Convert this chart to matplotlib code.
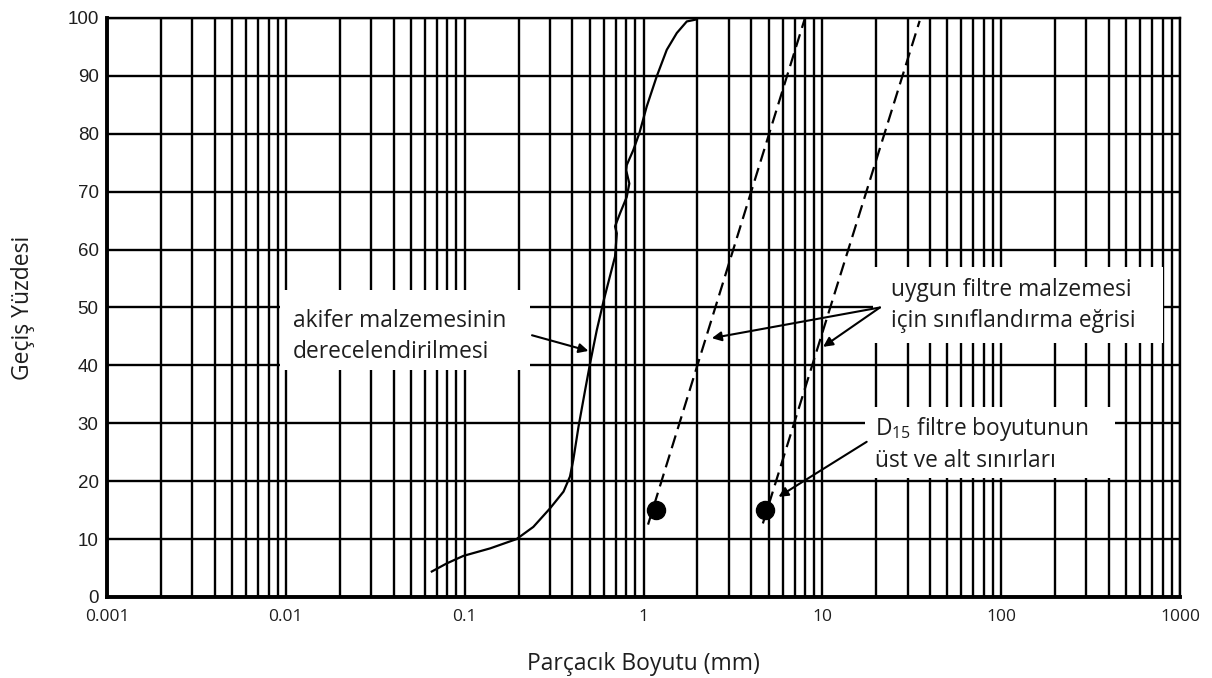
import matplotlib
matplotlib.use("Agg")
import matplotlib.pyplot as plt
from matplotlib.patches import Rectangle
from matplotlib.ticker import LogLocator, FixedLocator, NullFormatter

plt.rcParams['font.family'] = ['Open Sans', 'DejaVu Sans']
plt.rcParams['mathtext.fontset'] = 'custom'
plt.rcParams['mathtext.rm'] = 'Open Sans'

# aquifer gradation curve (grain size mm, percent passing)
aquifer_size = [0.0655, 0.0794, 0.0984, 0.139, 0.195, 0.242, 0.300, 0.357, 0.388,
                0.405, 0.433, 0.472, 0.503, 0.548, 0.60, 0.693, 0.709, 0.693,
                0.740, 0.806, 0.833, 0.800, 0.806, 0.877, 0.948, 1.042, 1.185,
                1.349, 1.535, 1.746, 1.945]
aquifer_pass = [4.4, 5.8, 7.1, 8.4, 10.0, 12.1, 15.3, 18.2, 20.8,
                23.7, 29.4, 35.8, 40.4, 46.1, 51.3, 58.8, 62.8, 64.0,
                66.3, 69.1, 71.4, 73.7, 74.6, 77.2, 80.1, 84.7, 89.9,
                94.5, 97.4, 99.4, 99.7]

# filter gradation envelope (dashed lines)
fine_limit_size = [1.06, 8.0]
fine_limit_pass = [12.5, 100]
coarse_limit_size = [4.65, 35.0]
coarse_limit_pass = [12.7, 99.5]

# D15 filter size limits
d15_size = [1.175, 4.79]
d15_pass = [15, 15]

x_ticks = [0.001, 0.01, 0.1, 1, 10, 100, 1000]
x_tick_labels = ["0.001", "0.01", "0.1", "1", "10", "100", "1000"]
y_ticks = list(range(0, 101, 10))

# annotation arrows: (tail, head) in data coords
arrow_aquifer = [((0.238, 45.2), (0.492, 42.5))]
arrow_filter = [((21.0, 50.0), (2.41, 44.7)), ((21.0, 50.0), (10.1, 43.2))]
arrow_d15 = [((17.7, 26.8), (5.69, 17.3))]

fig = plt.figure(figsize=(12.12, 6.78), dpi=100)
ax = fig.add_axes([0.0883, 0.1195, 0.8853, 0.854])

ax.set_xscale('log')
ax.set_xlim(0.001, 1000)
ax.set_ylim(0, 100)

# grid
ax.xaxis.set_major_locator(FixedLocator(x_ticks))
ax.xaxis.set_minor_locator(LogLocator(base=10, subs=range(2, 10), numticks=20))
ax.xaxis.set_minor_formatter(NullFormatter())
ax.set_yticks(y_ticks)
ax.grid(which='both', axis='x', color='black', lw=1.7)
ax.grid(which='major', axis='y', color='black', lw=1.7)
ax.set_axisbelow(True)
ax.tick_params(which='both', length=0)
ax.tick_params(axis='x', pad=9)
ax.tick_params(axis='y', pad=6)

ax.set_xticklabels(x_tick_labels, fontsize=12.5, color='#1e1e1e')
for lab in ax.get_yticklabels():
    lab.set_fontfamily('Liberation Sans')
    lab.set_fontsize(13.5)
    lab.set_color('#1e1e1e')

for side in ['top', 'right']:
    ax.spines[side].set_linewidth(1.7)
for side in ['left', 'bottom']:
    ax.spines[side].set_linewidth(2.8)

ax.plot(aquifer_size, aquifer_pass, color='black', lw=1.6, zorder=3)
ax.plot(fine_limit_size, fine_limit_pass, color='black', lw=1.6, ls=(0, (6, 3)), zorder=3)
ax.plot(coarse_limit_size, coarse_limit_pass, color='black', lw=1.6, ls=(0, (6, 3)), zorder=3)
ax.plot(d15_size, d15_pass, 'o', color='black', ms=13, zorder=4)

# white label boxes (axes fraction)
boxes = [(0.161, 0.392, 0.233, 0.138), (0.714, 0.439, 0.270, 0.131), (0.706, 0.206, 0.233, 0.122)]
for bx, by, bw, bh in boxes:
    ax.add_patch(Rectangle((bx, by), bw, bh, transform=ax.transAxes,
                           facecolor='white', edgecolor='none', zorder=2))

txt = dict(transform=ax.transAxes, fontsize=16.4, color='#1e1e1e', va='center', ha='left',
           linespacing=1.37, zorder=5)
ax.text(0.173, 0.450, "akifer malzemesinin\nderecelendirilmesi", **txt)
ax.text(0.731, 0.503, "uygun filtre malzemesi\niçin sınıflandırma eğrisi", **txt)
ax.text(0.716, 0.264, "D$_{\\mathrm{15}}$ filtre boyutunun\nüst ve alt sınırları", **txt)

for tail, head in arrow_aquifer + arrow_filter + arrow_d15:
    ax.annotate("", xy=head, xytext=tail,
                arrowprops=dict(arrowstyle='-|>', color='black', lw=1.5,
                                mutation_scale=14, shrinkA=0, shrinkB=0), zorder=5)

ax.set_xlabel("Parçacık Boyutu (mm)", fontsize=16.5, color='#1e1e1e', labelpad=19)
ax.set_ylabel("Geçiş Yüzdesi", fontsize=16.5, color='#1e1e1e', labelpad=23)

fig.savefig("out.png", dpi=100)
